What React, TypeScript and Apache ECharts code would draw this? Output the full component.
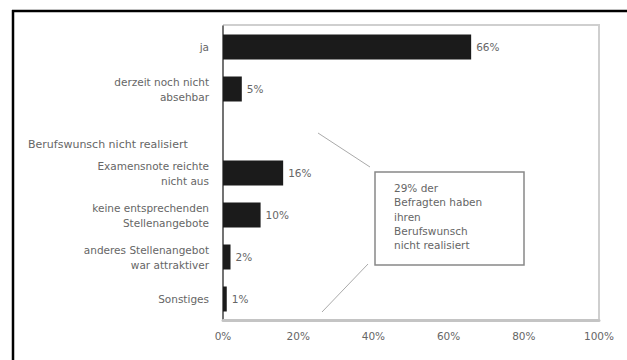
import React, { useEffect, useRef } from "react";
import * as echarts from "echarts";

const categories = [
  "ja",
  "derzeit noch nicht\nabsehbar",
  "Berufswunsch nicht realisiert",
  "Examensnote reichte\nnicht aus",
  "keine entsprechenden\nStellenangebote",
  "anderes Stellenangebot\nwar attraktiver",
  "Sonstiges",
];
const values: (number | null)[] = [66, 5, null, 16, 10, 2, 1];
const headerIndex = 2;
const xTicks = [0, 20, 40, 60, 80, 100];
const noteLines = [
  "29% der",
  "Befragten haben",
  "ihren",
  "Berufswunsch",
  "nicht realisiert",
];

const FONT = "DejaVu Sans, Verdana, sans-serif";
const TXT = "#666";

export default function App() {
  const ref = useRef<HTMLDivElement>(null);
  useEffect(() => {
    if (!ref.current) return;
    const chart = echarts.init(ref.current, undefined, { renderer: "svg" });
    const gridLeft = 223;
    const gridTop = 26;
    const gridRight = 599;
    const gridBottom = 320;
    chart.setOption({
      animation: false,
      backgroundColor: "#ffffff",
      textStyle: { fontFamily: FONT },
      grid: {
        left: gridLeft,
        top: gridTop,
        right: 627 - gridRight,
        bottom: 360 - gridBottom,
        containLabel: false,
      },
      xAxis: {
        type: "value",
        min: xTicks[0],
        max: xTicks[xTicks.length - 1],
        interval: 20,
        axisLine: { show: true, lineStyle: { color: "#c4c4c4", width: 3 } },
        axisTick: { show: false },
        splitLine: { show: false },
        axisLabel: {
          formatter: "{value}%",
          color: TXT,
          fontSize: 10.5,
          margin: 10,
          fontFamily: FONT,
        },
      },
      yAxis: {
        type: "category",
        inverse: true,
        data: categories,
        axisLine: { show: true, lineStyle: { color: "#444", width: 1.5 } },
        axisTick: { show: false },
        axisLabel: {
          formatter: (v: string, i: number) => (i === headerIndex ? "" : v),
          color: TXT,
          fontSize: 10.5,
          lineHeight: 15,
          margin: 14,
          align: "right",
          fontFamily: FONT,
        },
      },
      series: [
        {
          type: "bar",
          data: values,
          barWidth: 25,
          itemStyle: { color: "#1b1b1b" },
          label: {
            show: true,
            position: "right",
            distance: 5,
            formatter: "{c}%",
            color: TXT,
            fontSize: 10.5,
            fontFamily: FONT,
          },
          z: 3,
        },
      ],
      graphic: [
        {
          type: "line",
          shape: { x1: 13, y1: 10, x2: 13, y2: 360 },
          style: { stroke: "#000", lineWidth: 2.5 },
        },
        {
          type: "line",
          shape: { x1: 12, y1: 11, x2: 627, y2: 11 },
          style: { stroke: "#000", lineWidth: 2.5 },
        },
        {
          type: "polyline",
          shape: {
            points: [
              [gridLeft, 25],
              [gridRight, 25],
              [gridRight, gridBottom],
            ],
          },
          style: { stroke: "#cfcfcf", lineWidth: 2, fill: "none" },
          z: 0,
        },
        {
          type: "text",
          left: 28,
          top: 139,
          style: {
            text: categories[headerIndex],
            fill: TXT,
            fontSize: 11,
            fontFamily: FONT,
          },
        },
        {
          type: "line",
          shape: { x1: 318, y1: 133, x2: 370, y2: 167 },
          style: { stroke: "#aaa", lineWidth: 1 },
        },
        {
          type: "line",
          shape: { x1: 368, y1: 264, x2: 322, y2: 312 },
          style: { stroke: "#aaa", lineWidth: 1 },
        },
        {
          type: "rect",
          shape: { x: 375, y: 172, width: 149, height: 93 },
          style: { stroke: "#888", lineWidth: 1.5, fill: "#fff" },
          z: 5,
        },
        {
          type: "text",
          left: 394,
          top: 181,
          z: 6,
          style: {
            text: noteLines.join("\n"),
            fill: TXT,
            fontSize: 10.5,
            lineHeight: 14.3,
            fontFamily: FONT,
          },
        },
      ],
    });
    return () => chart.dispose();
  }, []);
  return (
    <div
      ref={ref}
      style={{ position: "fixed", left: 0, top: 0, width: 627, height: 360 }}
    />
  );
}
